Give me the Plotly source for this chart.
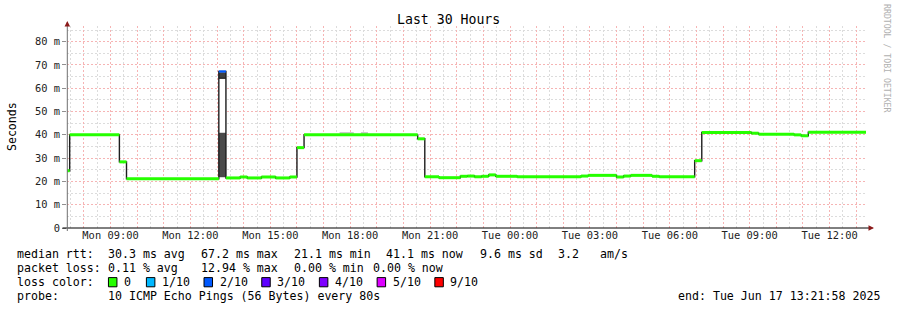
import plotly.graph_objects as go
from datetime import datetime, timedelta

# ---------------- data ----------------
DAY0 = datetime(2025, 6, 16, 0, 0, 0)          # Mon 00:00
START = datetime(2025, 6, 16, 7, 21, 58)
END = datetime(2025, 6, 17, 13, 21, 58)

# median rtt step segments: start minute (since Mon 00:00), value in ms, lost pings out of 10
seg_start_min = [441.9667, 448, 560, 576, 784, 800, 832, 848, 880, 912, 944, 960, 976,
                 1232, 1248, 1280, 1328, 1344, 1360, 1376, 1392, 1408, 1456, 1600, 1616,
                 1680, 1696, 1712, 1760, 1776, 1856, 1872, 1984, 2000, 2080, 2096, 2112]
median_ms = [24.6, 40.0, 28.4, 21.1, 67.2, 21.5, 21.9, 21.5, 21.9, 21.5, 21.9, 34.5, 40.0,
             38.3, 22.0, 21.6, 22.2, 22.3, 22.0, 22.2, 22.8, 22.2, 22.0, 22.3, 22.6,
             21.9, 22.3, 22.6, 22.2, 22.0, 28.9, 41.0, 40.7, 40.3, 40.0, 39.6, 41.1]
loss_count = [0, 0, 0, 0, 2, 0, 0, 0, 0, 0, 0, 0, 0,
              0, 0, 0, 0, 0, 0, 0, 0, 0, 0, 0, 0,
              0, 0, 0, 0, 0, 0, 0, 0, 0, 0, 0, 0]

# smoke bands (ping spread): start/end minute, low/high ms, shade
smoke_start_min = [784, 784, 784, 1056, 1104]
smoke_end_min = [800, 800, 800, 1088, 1120]
smoke_lo = [21.8, 41.0, 64.3, 40.0, 40.0]
smoke_hi = [41.0, 64.3, 66.8, 41.2, 41.2]
smoke_shade = ["#4a4a4a", "#ffffff", "#404040", "#c8c8c8", "#c8c8c8"]

# legend / statistics
loss_levels = ["0", "1/10", "2/10", "3/10", "4/10", "5/10", "9/10"]
loss_level_counts = [0, 1, 2, 3, 4, 5, 9]
loss_colors = ["#26ff00", "#00b8ff", "#0059ff", "#5e00ff", "#7e00ff", "#dd00ff", "#ff0000"]
rtt_stats = ["30.3 ms avg", "67.2 ms max", "21.1 ms min", "41.1 ms now", "9.6 ms sd", "3.2", "am/s"]
loss_stats = ["0.11 % avg", "12.94 % max", "0.00 % min", "0.00 % now"]
probe_text = "10 ICMP Echo Pings (56 Bytes) every 80s"
end_text = "end: Tue Jun 17 13:21:58 2025"
y_tick_vals = [0, 10, 20, 30, 40, 50, 60, 70, 80]
y_tick_text = ["0", "10 m", "20 m", "30 m", "40 m", "50 m", "60 m", "70 m", "80 m"]

# ---------------- geometry ----------------
W_PX, H_PX = 897, 310
L, R = 66.5, 866.5     # plot left/right px
T, B = 26.0, 228.0     # plot top/bottom px
PW, PH = R - L, B - T
Y_MAX = PH / 2.329

def px_x(px):
    return (px - L) / PW

def px_y(py):
    return (B - py) / PH

MONO = "DejaVu Sans Mono"

def tm(m):
    return DAY0 + timedelta(minutes=m)

fig = go.Figure()

# smoke
for s, e, lo, hi, c in zip(smoke_start_min, smoke_end_min, smoke_lo, smoke_hi, smoke_shade):
    fig.add_trace(go.Scatter(
        x=[tm(s), tm(e), tm(e), tm(s), tm(s)], y=[lo, lo, hi, hi, lo],
        fill="toself", fillcolor=c, mode="lines", line=dict(width=0),
        hoverinfo="skip", showlegend=False))
# edge line above the gap in the spike smoke
fig.add_trace(go.Scatter(
    x=[tm(smoke_start_min[1]), tm(smoke_end_min[1])], y=[smoke_hi[1], smoke_hi[1]],
    mode="lines", line=dict(color="#202020", width=1.2), hoverinfo="skip", showlegend=False))

# dark median step line
seg_times = [tm(m) for m in seg_start_min] + [END]
fig.add_trace(go.Scatter(
    x=seg_times, y=median_ms + [median_ms[-1]], mode="lines",
    line=dict(color="#1e1e1e", width=1.4, shape="hv"),
    hoverinfo="skip", showlegend=False))

# colored median segments by loss
for lvl, col in zip(loss_level_counts, loss_colors):
    xs, ys = [], []
    for i, v in enumerate(median_ms):
        if loss_count[i] == lvl:
            xs += [seg_times[i], seg_times[i + 1], None]
            ys += [v, v, None]
    if xs:
        fig.add_trace(go.Scatter(x=xs, y=ys, mode="lines",
                                 line=dict(color=col, width=3 if lvl == 0 else 2.2),
                                 hoverinfo="skip", showlegend=False))

annotations = []
shapes = []

def text(s, x_px, y_px, size=11.6, anchor="left", color="#000", angle=0):
    annotations.append(dict(
        text=s, x=px_x(x_px), y=px_y(y_px), xref="paper", yref="paper",
        xanchor=anchor, yanchor="middle", showarrow=False, textangle=angle,
        borderpad=0, font=dict(family=MONO, size=size, color=color)))

# title, axis title, watermark
text("Last 30 Hours", 448.0, 19.5, size=13.2, anchor="center")
text("Seconds", 11.5, 127, size=11.6, anchor="center", angle=-90)
text("RRDTOOL / TOBI OETIKER", 887.5, 59, size=8.2, anchor="center", color="#b0b0b0", angle=90)

# legend rows
row_y = [254.3, 268.3, 282.3, 296.3]
text("median rtt:", 15.4, row_y[0])
for s, x in zip(rtt_stats, [106.6, 199.3, 292.6, 385.3, 478.6, 557.6, 599.4]):
    text(s, x, row_y[0])
text("packet loss:", 15.4, row_y[1])
for s, x in zip(loss_stats, [106.6, 199.3, 292.6, 372.0]):
    text(s, x, row_y[1])
text("loss color:", 15.4, row_y[2])
box_x = [108.0, 146.0, 203.7, 261.5, 319.2, 377.0, 434.8]
for lab, col, bx in zip(loss_levels, loss_colors, box_x):
    shapes.append(dict(type="rect", xref="paper", yref="paper",
                       x0=px_x(bx), x1=px_x(bx + 8.5), y0=px_y(286.8), y1=px_y(277.6),
                       fillcolor=col, line=dict(color="#000", width=1)))
    text(lab, bx + 14.6, row_y[2])
text("probe:", 15.4, row_y[3])
text(probe_text, 106.6, row_y[3])
text(end_text, 881.2, row_y[3], anchor="right")

# axis lines
shapes.append(dict(type="line", xref="paper", yref="paper",
                   x0=px_x(62), x1=px_x(870), y0=0, y1=0, line=dict(color="#000", width=1)))
shapes.append(dict(type="line", xref="paper", yref="paper",
                   x0=px_x(66.8), x1=px_x(66.8), y0=px_y(231), y1=px_y(25),
                   line=dict(color="#707070", width=1)))
# arrow heads
annotations.append(dict(x=px_x(66.8), y=px_y(21), xref="paper", yref="paper", ax=0, ay=5,
                        showarrow=True, arrowhead=2, arrowsize=1.1, arrowwidth=1,
                        arrowcolor="#8b1a1a", text=""))
annotations.append(dict(x=px_x(874.5), y=0, xref="paper", yref="paper", ax=-5, ay=0,
                        showarrow=True, arrowhead=2, arrowsize=1.1, arrowwidth=1,
                        arrowcolor="#8b1a1a", text=""))

fig.update_layout(
    width=W_PX, height=H_PX,
    margin=dict(l=L, r=W_PX - R, t=T, b=H_PX - B, pad=0),
    paper_bgcolor="#ffffff", plot_bgcolor="#ffffff",
    showlegend=False,
    annotations=annotations, shapes=shapes,
    xaxis=dict(
        type="date", range=[START, END], automargin=False,
        tickmode="linear", tick0=datetime(2025, 6, 16, 9, 0, 0), dtick=3600000,
        ticklabelstep=3, tickformat="%a %H:%M",
        tickfont=dict(family=MONO, size=10.4, color="#222"),
        showgrid=True, gridcolor="#f6b4b4", griddash="2px,2px", gridwidth=1,
        minor=dict(dtick=1800000, tick0=datetime(2025, 6, 16, 9, 0, 0), showgrid=True,
                   gridcolor="#dcdcdc", griddash="2px,2px", gridwidth=1),
        showline=False, zeroline=False, ticks="", fixedrange=True,
    ),
    yaxis=dict(
        range=[0, Y_MAX], automargin=False,
        tickmode="array", tickvals=y_tick_vals, ticktext=y_tick_text,
        tickfont=dict(family=MONO, size=10.4, color="#222"),
        showgrid=True, gridcolor="#f6b4b4", griddash="2px,2px", gridwidth=1,
        minor=dict(dtick=5, tick0=0, showgrid=True, gridcolor="#dcdcdc",
                   griddash="2px,2px", gridwidth=1),
        showline=False, zeroline=False, ticks="outside", ticklen=4, tickcolor="#909090",
        fixedrange=True,
    ),
)

fig.write_html("out.html")
